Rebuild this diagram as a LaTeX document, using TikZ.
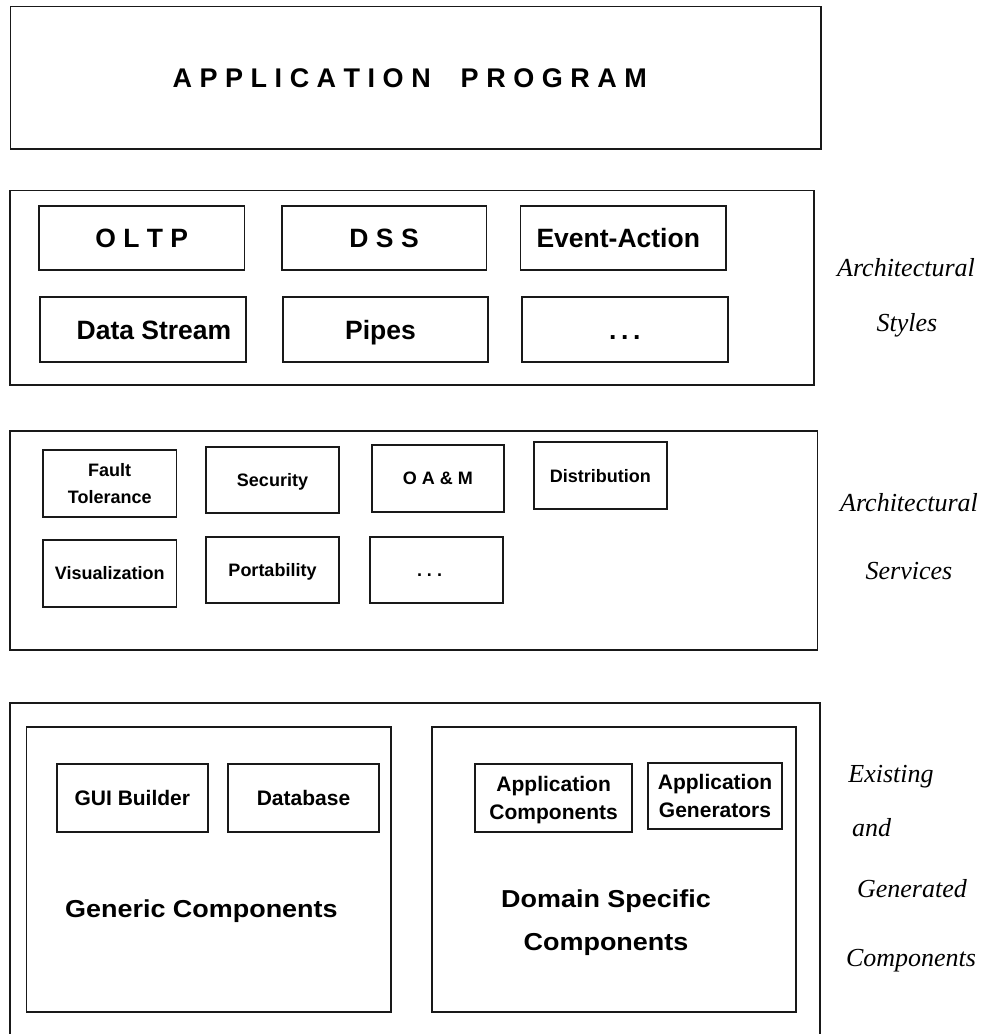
\documentclass[tikz,border=0pt]{standalone}
\usepackage{fontspec}
\setmainfont{Liberation Serif}
\newfontfamily\arialfont{Liberation Sans}
\newfontfamily\widearial[FakeStretch=1.1]{Liberation Sans}
\newcommand\spreaddots[1]{.\hspace{#1}.\hspace{#1}.}
\begin{document}
\begin{tikzpicture}[x=1pt,y=-1pt,
  corners/.style n args={4}{at={({(#1+#3)/2},{(#2+#4)/2})},
    minimum width={(#3-#1)*1pt}, minimum height={(#4-#2)*1pt}},
  box/.style={draw=black!90, line width=1.8pt, inner sep=0pt, align=center, text depth=0pt},
  frame/.style={draw=black!90, line width=1.8pt, inner sep=0pt},
  big/.style={font=\arialfont\bfseries\fontsize{26.5}{32}\selectfont, text height=19pt},
  mid/.style={font=\arialfont\bfseries\fontsize{21}{28.7}\selectfont},
  midone/.style={mid, text height=15pt},
  small/.style={font=\arialfont\bfseries\fontsize{18}{26.7}\selectfont},
  smallone/.style={small, text height=13pt},
  wide/.style={font=\widearial\bfseries\fontsize{24.5}{42.3}\selectfont, align=center, inner sep=0pt},
  side/.style={font=\itshape\fontsize{26}{30}\selectfont, anchor=base, inner sep=0pt}]
\useasboundingbox (0,0) rectangle (988,1034);

% application program layer
\node[box, frame, big, corners={10.5}{6.5}{821}{149}, font=\arialfont\bfseries\fontsize{27}{32}\selectfont] (app)
  {A~P~P~L~I~C~A~T~I~O~N~~~~P~R~O~G~R~A~M\hspace*{12pt}};

% architectural styles layer
\node[frame, corners={10}{190.5}{814}{385}] (styles) {};
\node[box, big, corners={39}{206}{244.5}{270}] (oltp) {O~L~T~P};
\node[box, big, corners={281.7}{206}{486.5}{270}] (dss) {D~S~S};
\node[box, big, corners={520.5}{206}{726}{270}] (event) {Event-Action\hspace*{10pt}};
\node[box, big, corners={40.3}{297.3}{245.7}{361.7}] (dstream) {\hspace*{22pt}Data Stream};
\node[box, big, corners={283}{297.3}{488}{361.7}] (pipes) {Pipes\hspace*{10pt}};
\node[box, big, corners={521.7}{297.3}{727.8}{361.7}] (sdots) {\spreaddots{4.6pt}};
\node[side] (styleA) at (906,276.7) {Architectural};
\node[side] (styleB) at (907,331.7) {Styles};

% architectural services layer
\node[frame, corners={10}{430.7}{817.5}{650}] (services) {};
\node[box, small, corners={43}{450}{176.4}{516.7}] (fault) {Fault\\Tolerance};
\node[box, smallone, corners={206}{446.7}{339}{513.3}] (security) {Security};
\node[box, smallone, corners={371.8}{445}{504}{511.7}] (oam) {O A \& M};
\node[box, smallone, corners={534}{442.3}{666.7}{509}] (distr) {Distribution};
\node[box, smallone, corners={43}{540}{176.4}{606.7}] (visual) {Visualization};
\node[box, smallone, corners={206}{536.7}{339}{603.3}] (port) {Portability};
\node[box, smallone, corners={370}{536.7}{503}{603.3}] (vdots) {\spreaddots{5pt}\hspace*{14pt}};
\node[side] (servA) at (909,511) {Architectural};
\node[side] (servB) at (909,579.5) {Services};

% existing and generated components layer (runs off the lower edge)
\coordinate (compBL) at (10,1034);
\coordinate (compTL) at (10,703);
\coordinate (compTR) at (820,703);
\coordinate (compBR) at (820,1034);
\draw[black!90, line width=1.8pt] (compBL) -- (compTL) -- (compTR) -- (compBR);

\node[frame, corners={26.5}{726.7}{391}{1011.7}] (generic) {};
\node[box, midone, corners={56.7}{764}{208}{831.7}] (gui) {GUI Builder};
\node[box, midone, corners={228}{764}{379}{831.7}] (db) {Database};
\node[wide, anchor=base] (genericlbl) at (201.4,917.3) {Generic Components};

\node[frame, corners={431.7}{726.7}{796}{1011.7}] (domain) {};
\node[box, mid, corners={475}{764}{632.3}{831.7}] (appcomp) {Application\\Components};
\node[box, mid, corners={648.3}{762.7}{781.7}{829.3}] (appgen) {Application\\Generators};
\node[wide, anchor=north, text depth=0pt] (domainlbl) at (606,889.8) {Domain Specific\\Components};

\node[side] (compA) at (891,782) {Existing};
\node[side] (compB) at (871.5,836) {and};
\node[side] (compC) at (912,897) {Generated};
\node[side] (compD) at (911,966) {Components};
\end{tikzpicture}
\end{document}
